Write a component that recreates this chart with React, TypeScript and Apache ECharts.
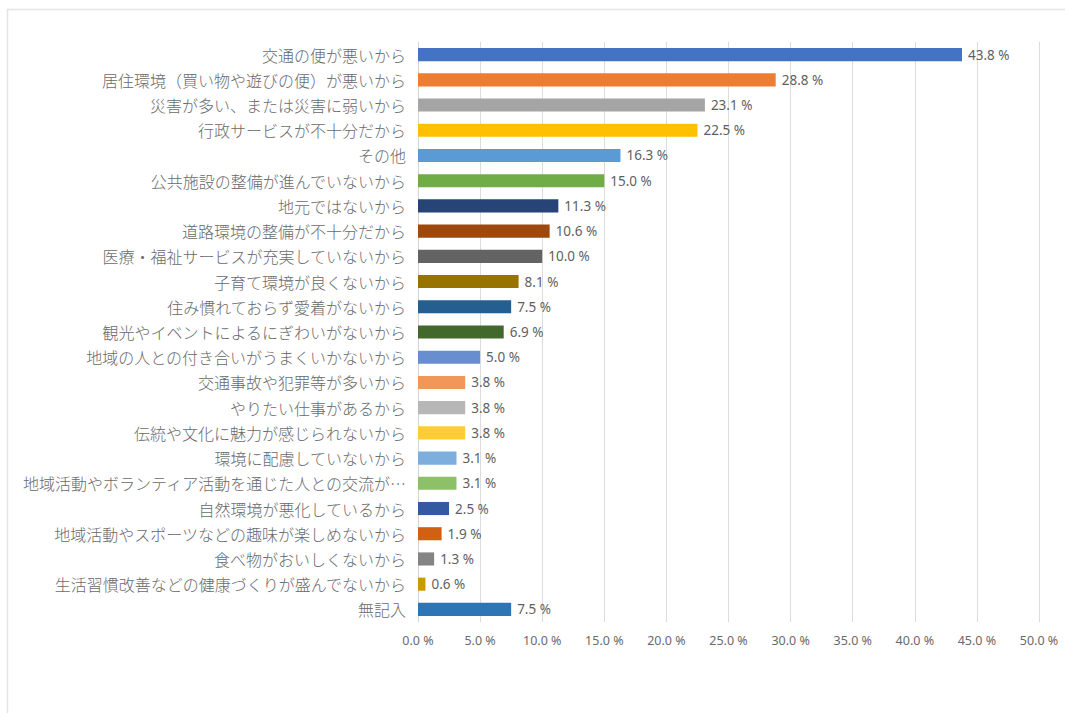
import React, { useEffect, useRef } from "react";
import * as echarts from "echarts";

const categories: string[] = [
  "交通の便が悪いから",
  "居住環境（買い物や遊びの便）が悪いから",
  "災害が多い、または災害に弱いから",
  "行政サービスが不十分だから",
  "その他",
  "公共施設の整備が進んでいないから",
  "地元ではないから",
  "道路環境の整備が不十分だから",
  "医療・福祉サービスが充実していないから",
  "子育て環境が良くないから",
  "住み慣れておらず愛着がないから",
  "観光やイベントによるにぎわいがないから",
  "地域の人との付き合いがうまくいかないから",
  "交通事故や犯罪等が多いから",
  "やりたい仕事があるから",
  "伝統や文化に魅力が感じられないから",
  "環境に配慮していないから",
  "地域活動やボランティア活動を通じた人との交流が…",
  "自然環境が悪化しているから",
  "地域活動やスポーツなどの趣味が楽しめないから",
  "食べ物がおいしくないから",
  "生活習慣改善などの健康づくりが盛んでないから",
  "無記入",
];

const values: number[] = [
  43.8, 28.8, 23.1, 22.5, 16.3, 15.0, 11.3, 10.6, 10.0, 8.1, 7.5, 6.9, 5.0,
  3.8, 3.8, 3.8, 3.1, 3.1, 2.5, 1.9, 1.3, 0.6, 7.5,
];

const barColors: string[] = [
  "#4472C4", "#ED7D31", "#A5A5A5", "#FFC000", "#5B9BD5", "#70AD47",
  "#264478", "#9E480E", "#636363", "#997300", "#255E91", "#43682B",
  "#698ED0", "#F1975A", "#B7B7B7", "#FFCD33", "#7CAFDD", "#8CC168",
  "#335AA1", "#D26012", "#848484", "#CC9A00", "#2E75B6",
];

const FONT = '"Noto Sans CJK JP", "Noto Sans", sans-serif';
const NUM_FONT = '"Noto Sans", "Noto Sans CJK JP", sans-serif';

export default function App() {
  const ref = useRef<HTMLDivElement>(null);
  useEffect(() => {
    if (!ref.current) return;
    const chart = echarts.init(ref.current, undefined, { renderer: "svg" });
    chart.setOption({
      animation: false,
      backgroundColor: "#ffffff",
      graphic: [
        {
          type: "rect",
          shape: { x: 7.5, y: 9.5, width: 1070, height: 720 },
          style: { fill: "none", stroke: "#e4e4e4", lineWidth: 1.5 },
          silent: true,
        },
      ],
      grid: { left: 418, right: 26, top: 42, height: 580, containLabel: false },
      xAxis: {
        type: "value",
        min: 0,
        max: 50,
        interval: 5,
        axisLine: { show: false },
        axisTick: { show: false },
        splitLine: { show: true, lineStyle: { color: "#dcdcdc", width: 1 } },
        axisLabel: {
          color: "#6a6a6a",
          fontSize: 12.5,
          fontFamily: NUM_FONT,
          margin: 12,
          formatter: (v: number) => v.toFixed(1) + " %",
        },
      },
      yAxis: {
        type: "category",
        data: categories,
        inverse: true,
        axisLine: { show: true, lineStyle: { color: "#d4d4d4" } },
        axisTick: { show: false },
        axisLabel: {
          color: "#6a6a6a",
          fontSize: 16,
          fontFamily: FONT,
          fontWeight: 300,
          margin: 12,
        },
      },
      series: [
        {
          type: "bar",
          barWidth: "52%",
          data: values.map((v, i) => ({
            value: v,
            itemStyle: { color: barColors[i] },
          })),
          label: {
            show: true,
            position: "right",
            distance: 6,
            color: "#5f5f5f",
            fontSize: 13.5,
            fontFamily: NUM_FONT,
            formatter: (p: any) => Number(p.value).toFixed(1) + " %",
          },
        },
      ],
    });
    return () => chart.dispose();
  }, []);
  return (
    <div
      ref={ref}
      style={{ position: "absolute", left: 0, top: 0, width: 1065, height: 713 }}
    />
  );
}
